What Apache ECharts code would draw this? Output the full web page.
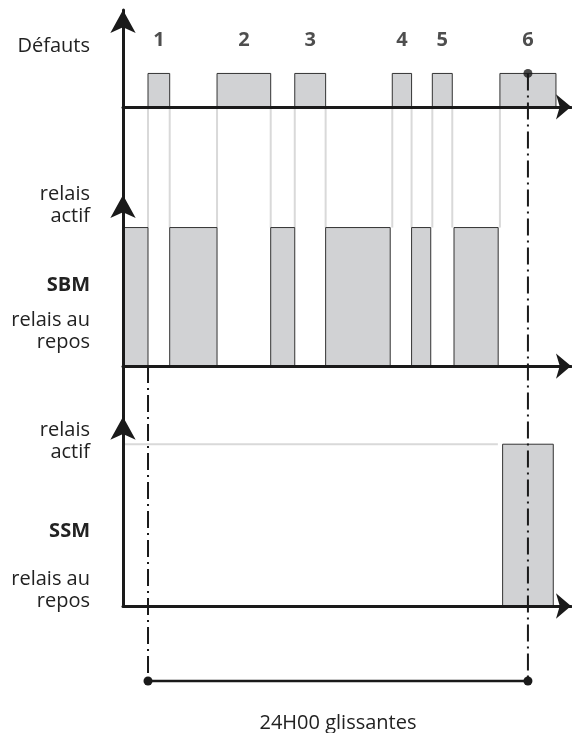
<!DOCTYPE html>
<html>
<head>
<meta charset="utf-8">
<script src="https://cdn.jsdelivr.net/npm/echarts@6/dist/echarts.min.js"></script>
<style>
  html, body { margin: 0; padding: 0; background: #fff; }
  #chart { width: 572px; height: 733px; }
</style>
</head>
<body>
<div id="chart"></div>
<script>
(function () {
  // temps en heures, 0 = début du défaut 1
  const faults = [[0, 1.37], [4.36, 7.75], [9.27, 11.22], [15.43, 16.65], [17.96, 19.22], [22.23, 25.77]];
  const faultNames = ['1', '2', '3', '4', '5', '6'];
  const sbmActive = [[-1.58, 0], [1.37, 4.36], [7.75, 9.27], [11.22, 15.3], [16.65, 17.86], [19.33, 22.12]];
  const ssmActive = [[22.4, 25.6]];
  const ssmGuide = [[-1.58, 1], [22.1, 1]];
  const windowSpan = [0, 24];
  const windowLabel = '24H00 glissantes';

  const faultAxisValues = [1.82];
  const faultAxisNames = ['Défauts'];
  const sbmAxisValues = [1.16, 0.585, 0.25];
  const sbmAxisNames = ['relais\nactif', '{b|SBM}', 'relais au\nrepos'];
  const ssmAxisValues = [1.02, 0.46, 0.1];
  const ssmAxisNames = ['relais\nactif', '{b|SSM}', 'relais au\nrepos'];

  const ink = '#1a1a1a';
  const textColor = '#222';
  const pulseFill = '#d1d2d4';
  const guideColor = '#d9d9d9';
  const font = 'Open Sans';

  const chart = echarts.init(document.getElementById('chart'));

  function pulseItem(params, api) {
    const low = api.coord([api.value(0), 0]);
    const high = api.coord([api.value(1), api.value(2)]);
    return {
      type: 'rect',
      shape: { x: low[0], y: high[1], width: high[0] - low[0], height: low[1] - high[1] },
      style: { fill: pulseFill, stroke: '#333', lineWidth: 1 },
    };
  }

  function xAxisBase(gridIndex, showLine) {
    return {
      type: 'value',
      gridIndex,
      min: -1.58,
      max: 26.72,
      z: 5,
      axisLine: {
        show: showLine,
        onZero: true,
        symbol: ['none', 'arrow'],
        symbolSize: [19, 15],
        lineStyle: { color: ink, width: 3 },
      },
      axisTick: { show: false },
      axisLabel: { show: false },
      splitLine: { show: false },
    };
  }

  function yAxisBase(gridIndex, min, max, values, names) {
    return {
      type: 'value',
      gridIndex,
      min,
      max,
      z: 5,
      axisLine: {
        show: true,
        onZero: false,
        symbol: ['none', 'arrow'],
        symbolSize: [19, 23],
        lineStyle: { color: ink, width: 3 },
      },
      axisTick: { show: false },
      splitLine: { show: false },
      axisLabel: {
        show: true,
        customValues: values,
        formatter: (value) => names[values.indexOf(value)] || '',
        margin: 33,
        color: textColor,
        fontFamily: font,
        fontSize: 20,
        lineHeight: 22,
        rich: { b: { fontWeight: 'bold', fontSize: 20, color: textColor, fontFamily: font } },
      },
    };
  }

  const bracketAxis = xAxisBase(3, false);
  bracketAxis.axisLine.onZero = false;
  bracketAxis.axisLabel = {
    show: true,
    customValues: [12],
    formatter: () => windowLabel,
    margin: 11,
    color: textColor,
    fontFamily: font,
    fontSize: 20,
  };

  chart.setOption({
    animation: false,
    textStyle: { fontFamily: font },
    grid: [
      { left: 123, width: 448, top: 10, height: 197 },
      { left: 123, width: 448, top: 195, height: 222.3 },
      { left: 123, width: 448, top: 416.7, height: 189.3 },
      { left: 123, width: 448, top: 660, height: 42 },
    ],
    xAxis: [xAxisBase(0, true), xAxisBase(1, true), xAxisBase(2, true), bracketAxis],
    yAxis: [
      yAxisBase(0, -3, 2.9, faultAxisValues, faultAxisNames),
      yAxisBase(1, -0.37, 1.235, sbmAxisValues, sbmAxisNames),
      yAxisBase(2, 0, 1.17, ssmAxisValues, ssmAxisNames),
      { type: 'value', gridIndex: 3, min: -1, max: 1, show: false },
    ],
    series: [
      {
        type: 'custom',
        xAxisIndex: 0,
        yAxisIndex: 0,
        renderItem: pulseItem,
        encode: { x: [0, 1], y: 2 },
        data: faults.map((f) => [f[0], f[1], 1]),
        z: 2,
      },
      {
        type: 'scatter',
        xAxisIndex: 0,
        yAxisIndex: 0,
        symbolSize: 1,
        itemStyle: { color: 'rgba(0,0,0,0)' },
        label: {
          show: true,
          position: 'inside',
          formatter: '{b}',
          fontSize: 20,
          fontWeight: 'bold',
          color: textColor,
          fontFamily: font,
        },
        data: faults.map((f, i) => ({ name: faultNames[i], value: [(f[0] + f[1]) / 2, 2] })),
      },
      {
        type: 'scatter',
        xAxisIndex: 0,
        yAxisIndex: 0,
        symbolSize: 9,
        itemStyle: { color: ink },
        data: [[windowSpan[1], 1]],
        z: 7,
      },
      {
        type: 'custom',
        xAxisIndex: 1,
        yAxisIndex: 1,
        renderItem: pulseItem,
        encode: { x: [0, 1], y: 2 },
        data: sbmActive.map((p) => [p[0], p[1], 1]),
        z: 2,
      },
      {
        type: 'line',
        xAxisIndex: 2,
        yAxisIndex: 2,
        symbol: 'none',
        lineStyle: { color: guideColor, width: 2 },
        data: ssmGuide,
        z: 1,
      },
      {
        type: 'custom',
        xAxisIndex: 2,
        yAxisIndex: 2,
        renderItem: pulseItem,
        encode: { x: [0, 1], y: 2 },
        data: ssmActive.map((p) => [p[0], p[1], 1]),
        z: 2,
      },
      {
        type: 'line',
        xAxisIndex: 3,
        yAxisIndex: 3,
        symbol: 'circle',
        symbolSize: 9,
        showSymbol: true,
        itemStyle: { color: ink },
        lineStyle: { color: ink, width: 2.5 },
        data: windowSpan.map((t) => [t, 0]),
        z: 7,
      },
    ],
  });

  // lignes qui traversent plusieurs grilles
  const px = (gridIndex, point) => chart.convertToPixel({ gridIndex }, point);
  const elements = [];

  const edges = [];
  faults.forEach((f) => f.forEach((t) => { if (t < windowSpan[1]) edges.push(t); }));
  edges.forEach((t) => {
    const a = px(0, [t, 0]);
    const b = px(1, [t, 1]);
    elements.push({
      type: 'line',
      z: 1,
      shape: { x1: a[0], y1: a[1], x2: b[0], y2: b[1] },
      style: { stroke: guideColor, lineWidth: 2 },
    });
  });

  const dashStyle = { stroke: ink, lineWidth: 2, lineDash: [17, 5, 2, 5] };
  const leftTop = px(1, [windowSpan[0], 0]);
  const leftBottom = px(3, [windowSpan[0], 0]);
  const rightTop = px(0, [windowSpan[1], 1]);
  const rightBottom = px(3, [windowSpan[1], 0]);
  elements.push({
    type: 'line', z: 8,
    shape: { x1: leftTop[0], y1: leftTop[1], x2: leftBottom[0], y2: leftBottom[1] },
    style: dashStyle,
  });
  elements.push({
    type: 'line', z: 8,
    shape: { x1: rightTop[0], y1: rightTop[1], x2: rightBottom[0], y2: rightBottom[1] },
    style: dashStyle,
  });

  chart.setOption({ graphic: { elements } });

  window.addEventListener('resize', () => chart.resize());
})();
</script>
</body>
</html>
